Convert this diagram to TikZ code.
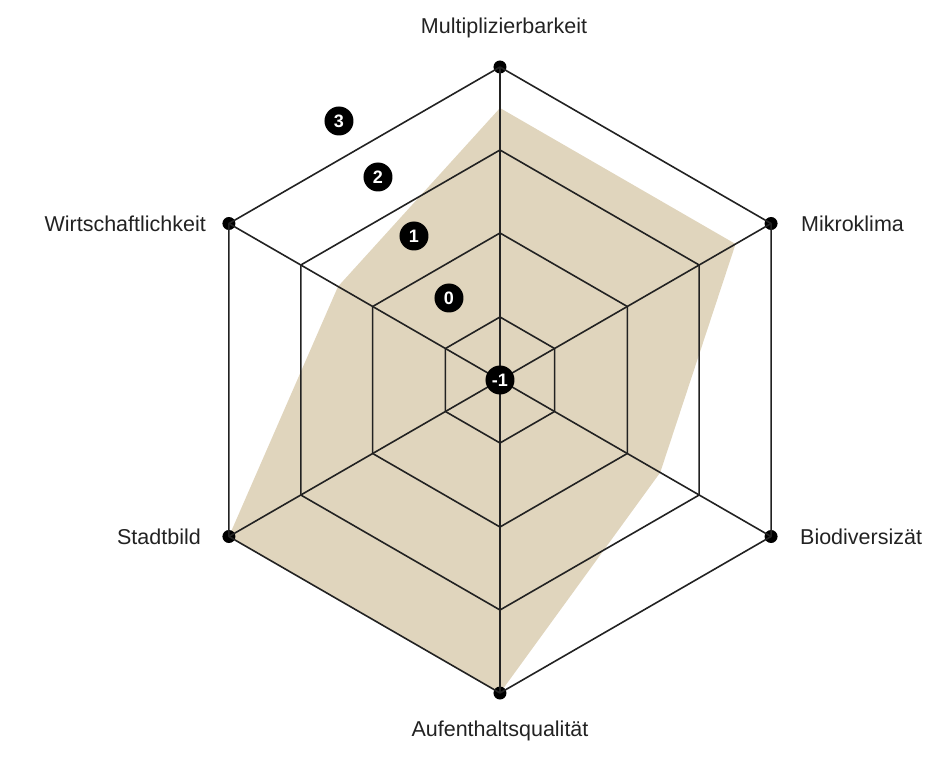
\documentclass[tikz,border=0pt]{standalone}
\usepackage{fontspec}
\setmainfont{Liberation Sans}
\usetikzlibrary{positioning}
\definecolor{sand}{RGB}{224,213,189}
\definecolor{ink}{RGB}{34,34,34}
\begin{document}
\begin{tikzpicture}[x=1pt,y=1pt,line width=1.6pt,line join=round,color=ink,
  axisdot/.style={circle,fill=black,inner sep=0pt,minimum size=13pt},
  badge/.style={circle,fill=black,text=white,inner sep=0pt,minimum size=29pt,font=\fontsize{18}{18}\selectfont\bfseries},
  axislabel/.style={inner sep=0pt,text height=15.5pt,text depth=0pt,font=\fontsize{21.5}{26}\selectfont}]
  \useasboundingbox (-500,-378) rectangle (427,380);
  \coordinate (O) at (0,0);
  % values
  \fill[sand] (90:272) -- (30:272) -- (-30:185) -- (-90:313) -- (210:313) -- (150:187) -- cycle;
  % inner rings
  \foreach \r in {63,147,230}
    \draw (90:\r) -- (30:\r) -- (-30:\r) -- (-90:\r) -- (210:\r) -- (150:\r) -- cycle;
  % axes
  \foreach \n/\a in {M/90,K/30,B/-30,A/-90,S/210,W/150}
    \node[axisdot] (\n) at (\a:313) {};
  \draw (M.center) -- (K.center) -- (B.center) -- (A.center) -- (S.center) -- (W.center) -- cycle;
  \foreach \n in {M,K,B,A,S,W}
    \draw (O) -- (\n.center);
  \node[axislabel,above=25pt of M,xshift=4pt] (lM) {Multiplizierbarkeit};
  \node[axislabel,right=22pt of K] (lK) {Mikroklima};
  \node[axislabel,right=21pt of B] (lB) {Biodiversizät};
  \node[axislabel,below=20pt of A] (lA) {Aufenthaltsqualität};
  \node[axislabel,left=20pt of S] (lS) {Stadtbild};
  \node[axislabel,left=15pt of W] (lW) {Wirtschaftlichkeit};
  % scale
  \foreach \v/\x/\y in {3/-161/259,2/-122/203,1/-86/144,0/-51/82}
    \node[badge] (b\v) at (\x,\y) {\v};
  \node[badge] (bm1) at (O) {-1};
\end{tikzpicture}
\end{document}
